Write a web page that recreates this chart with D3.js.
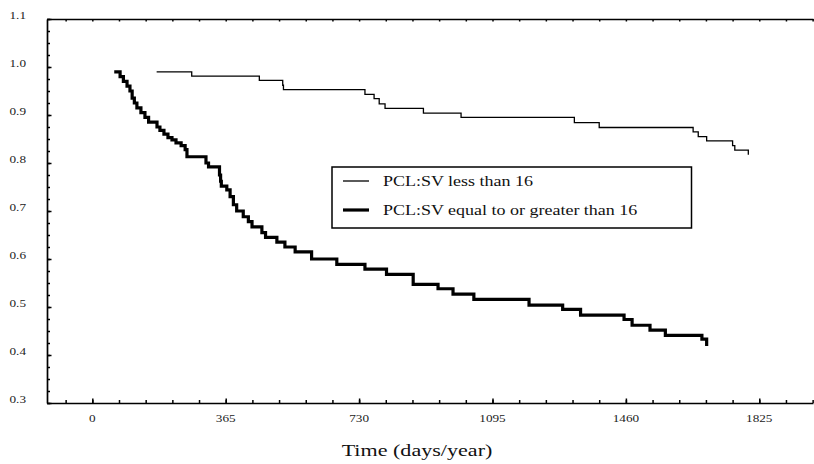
<!DOCTYPE html>
<html><head><meta charset="utf-8">
<script src="https://cdn.jsdelivr.net/npm/d3@7/dist/d3.min.js"></script>
<style>body{margin:0;background:#fff} svg{display:block}</style>
</head><body>
<script>
// ---- data ----
const thinTimes = [176, 272, 457, 521, 523, 746, 771, 785, 801, 906, 1009, 1319, 1387, 1644, 1658, 1681, 1752, 1758, 1795];
const thinSurv  = [0.990, 0.981, 0.972, 0.962, 0.953, 0.943, 0.934, 0.923, 0.914, 0.904, 0.895, 0.884, 0.874, 0.865, 0.855, 0.846, 0.836, 0.827, 0.817];

const thickTimes = [60, 76, 85, 95, 103, 109, 115, 122, 133, 144, 154, 177, 185, 196, 207, 218, 229, 243, 254, 259,
  311, 318, 348, 351, 353, 368, 377, 386, 395, 413, 427, 437, 464, 474, 505, 527, 555, 600, 669, 746, 805, 878,
  946, 987, 1044, 1195, 1287, 1336, 1455, 1477, 1526, 1568, 1668, 1681];
const thickSurv  = [0.990, 0.980, 0.970, 0.960, 0.950, 0.935, 0.925, 0.915, 0.905, 0.895, 0.885, 0.875, 0.868, 0.860, 0.853, 0.848, 0.842, 0.836, 0.828, 0.813,
  0.800, 0.792, 0.775, 0.762, 0.752, 0.744, 0.730, 0.713, 0.700, 0.688, 0.678, 0.667, 0.655, 0.645, 0.635, 0.625, 0.615, 0.600, 0.589, 0.579, 0.568, 0.547,
  0.538, 0.527, 0.516, 0.504, 0.495, 0.483, 0.474, 0.462, 0.452, 0.441, 0.433, 0.419];

const xTickValues = [0, 365, 730, 1095, 1460, 1825];
const xTickLabels = ["0", "365", "730", "1095", "1460", "1825"];
const yTickValues = [0.3, 0.4, 0.5, 0.6, 0.7, 0.8, 0.9, 1.0, 1.1];
const yTickLabels = ["0.3", "0.4", "0.5", "0.6", "0.7", "0.8", "0.9", "1.0", "1.1"];
const seriesNames = ["PCL:SV less than 16", "PCL:SV equal to or greater than 16"];
const xTitle = "Time (days/year)";

// ---- chart ----
const W = 814, H = 464;
const FONT = "'Liberation Serif','Times New Roman',serif";
const svg = d3.select("body").append("svg").attr("width", W).attr("height", H);

const x = d3.scaleLinear().domain([-124, 1972]).range([47, 813]);
const y = d3.scaleLinear().domain([0.3, 1.1]).range([403, 19]);

const xMinor = d3.range(-73, 1972, 73);
const yMinor = d3.range(0, 33).map(i => +(0.3 + i * 0.025).toFixed(3));

function styleAxis(g) {
  g.selectAll("path.domain").attr("stroke", "#000").attr("stroke-width", 1.7);
  g.selectAll(".tick line").attr("stroke", "#000").attr("stroke-width", 1.5);
  g.selectAll("text").remove();
}

// bottom axis
svg.append("g").attr("transform", `translate(0,${y(0.3)})`)
  .call(d3.axisBottom(x).tickValues(xMinor).tickSize(-3).tickSizeOuter(0).tickFormat(""))
  .call(styleAxis);
svg.append("g").attr("transform", `translate(0,${y(0.3)})`)
  .call(d3.axisBottom(x).tickValues(xTickValues).tickSize(-4.5).tickSizeOuter(0).tickFormat(""))
  .call(styleAxis).call(g => g.select("path.domain").remove());

// top axis
svg.append("g").attr("transform", `translate(0,${y(1.1)})`)
  .call(d3.axisTop(x).tickValues(xMinor).tickSize(-2.5).tickSizeOuter(0).tickFormat(""))
  .call(styleAxis);

// left axis
svg.append("g").attr("transform", `translate(${x(-124)},0)`)
  .call(d3.axisLeft(y).tickValues(yMinor).tickSize(-3).tickSizeOuter(0).tickFormat(""))
  .call(styleAxis);
svg.append("g").attr("transform", `translate(${x(-124)},0)`)
  .call(d3.axisLeft(y).tickValues(yTickValues).tickSize(-4.5).tickSizeOuter(0).tickFormat(""))
  .call(styleAxis).call(g => g.select("path.domain").remove());

// tick labels
svg.append("g").selectAll("text").data(xTickValues).join("text")
  .attr("transform", d => `translate(${x(d)},422) scale(1.2,1)`)
  .attr("text-anchor", "middle")
  .style("font-family", FONT).style("font-size", "11px").attr("fill", "#222")
  .text((d, i) => xTickLabels[i]);

svg.append("g").selectAll("text").data(yTickValues).join("text")
  .attr("transform", d => `translate(26,${y(d)}) scale(1.2,1)`)
  .attr("text-anchor", "end")
  .style("font-family", FONT).style("font-size", "11px").attr("fill", "#222")
  .text((d, i) => yTickLabels[i]);

// axis title
svg.append("text")
  .attr("transform", `translate(417,456) scale(1.3,1)`)
  .attr("text-anchor", "middle")
  .style("font-family", FONT).style("font-size", "17px").attr("fill", "#111")
  .text(xTitle);

// curves
const line = d3.line().x(d => x(d[0])).y(d => y(d[1])).curve(d3.curveStepAfter);
const thinData = thinTimes.map((t, i) => [t, thinSurv[i]]);
const thickData = thickTimes.map((t, i) => [t, thickSurv[i]]);

svg.append("path").datum(thinData).attr("d", line)
  .attr("fill", "none").attr("stroke", "#000").attr("stroke-width", 1.3);
svg.append("path").datum(thickData).attr("d", line)
  .attr("fill", "none").attr("stroke", "#000").attr("stroke-width", 3.2);

// legend
const lg = svg.append("g");
lg.append("rect").attr("x", 332).attr("y", 167).attr("width", 359.5).attr("height", 61)
  .attr("fill", "#fff").attr("stroke", "#000").attr("stroke-width", 1.5);
const widths = [1.3, 3.2];
const rowsY = [181, 210];
seriesNames.forEach((name, i) => {
  lg.append("line").attr("x1", 343).attr("x2", 369).attr("y1", rowsY[i]).attr("y2", rowsY[i])
    .attr("stroke", "#000").attr("stroke-width", widths[i]);
  lg.append("text")
    .attr("transform", `translate(383,${rowsY[i] + 4.5}) scale(1.2,1)`)
    .style("font-family", FONT).style("font-size", "15px").attr("fill", "#111")
    .text(name);
});
</script>
</body></html>
